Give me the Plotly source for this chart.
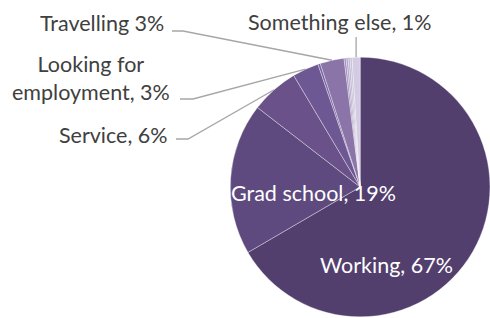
import math
import plotly.graph_objects as go

# ---- data ----
labels = ["Working", "Grad school", "Service", "Looking for employment", "Other 1",
          "Travelling", "Other 2", "Other 3", "Other 4", "Other 5", "Something else"]
values = [67, 19, 6, 3.3, 0.3, 3.0, 0.25, 0.25, 0.25, 0.25, 1.0]
colors = ["#533F6E", "#5E4A7E", "#6A5189", "#6E5893", "#7A64A0", "#8A74A8",
          "#9E8DBA", "#AFA1C6", "#BCB0D0", "#C6BCD8", "#D3CBE2"]

W, H = 490, 318
dom_x = [0.47, 1.0]
dom_y = [0.0, 0.8239]
FONT = "Lato"
FS = 21.5

fig = go.Figure(go.Pie(
    labels=labels, values=values, sort=False, direction="clockwise", rotation=0,
    marker=dict(colors=colors, line=dict(color="rgba(255,255,255,0.6)", width=0.6)),
    textinfo="none", hoverinfo="label+percent", showlegend=False,
    domain=dict(x=dom_x, y=dom_y),
))

total = sum(values)
pct = [round(v / total * 100) for v in values]
cx = (dom_x[0] + dom_x[1]) / 2 * W
cy = H - (dom_y[0] + dom_y[1]) / 2 * H
r = min((dom_x[1] - dom_x[0]) * W, (dom_y[1] - dom_y[0]) * H) / 2


def edge(i):
    a = (sum(values[:i]) + values[i] / 2) / total * 2 * math.pi
    return cx + r * math.sin(a), cy - r * math.cos(a)


def px(x, y):
    return x / W, 1 - y / H


annotations = []
shapes = []
dark = "#404040"

# outside labels: (index, text, x, y, xanchor, leader start, leader elbow)
outside = [
    (5, f"{labels[5]} {pct[5]}%", 166, 23, "right", (172, 31), (183, 31)),
    (3, f"Looking for<br>employment, {pct[3]}%", 91, 78, "center", (180, 99), (193, 99)),
    (2, f"{labels[2]}, {pct[2]}%", 170, 135, "right", (176, 139), (188, 139)),
    (10, f"{labels[10]}, {pct[10]}%", 339, 22, "center", None, None),
]
for i, text, x, y, xa, s0, s1 in outside:
    ax, ay = px(x, y)
    annotations.append(dict(text=text, x=ax, y=ay, xref="paper", yref="paper",
                            xanchor=xa, yanchor="middle", showarrow=False,
                            font=dict(family=FONT, size=FS, color=dark), align="center"))
    ex, ey = edge(i)
    if s0 is None:
        pts = [(ex, 37), (ex, ey)]
    else:
        pts = [s0, s1, (ex, ey)]
    path = "M " + " L ".join(f"{px(a, b)[0]:.5f},{px(a, b)[1]:.5f}" for a, b in pts)
    shapes.append(dict(type="path", path=path, xref="paper", yref="paper",
                       line=dict(color="#A6A6A6", width=1.3)))

inside = [
    (1, f"{labels[1]}, {pct[1]}%", 313, 193),
    (0, f"{labels[0]}, {pct[0]}%", 386, 265),
]
for i, text, x, y in inside:
    ax, ay = px(x, y)
    annotations.append(dict(text=text, x=ax, y=ay, xref="paper", yref="paper",
                            xanchor="center", yanchor="middle", showarrow=False,
                            font=dict(family=FONT, size=FS, color="white")))

fig.update_layout(
    width=W, height=H, margin=dict(l=0, r=0, t=0, b=0),
    paper_bgcolor="white", plot_bgcolor="white",
    annotations=annotations, shapes=shapes,
)
fig.write_html("out.html", config={"displayModeBar": False},
               post_script="document.body.style.margin='0';document.body.style.overflow='hidden';")
